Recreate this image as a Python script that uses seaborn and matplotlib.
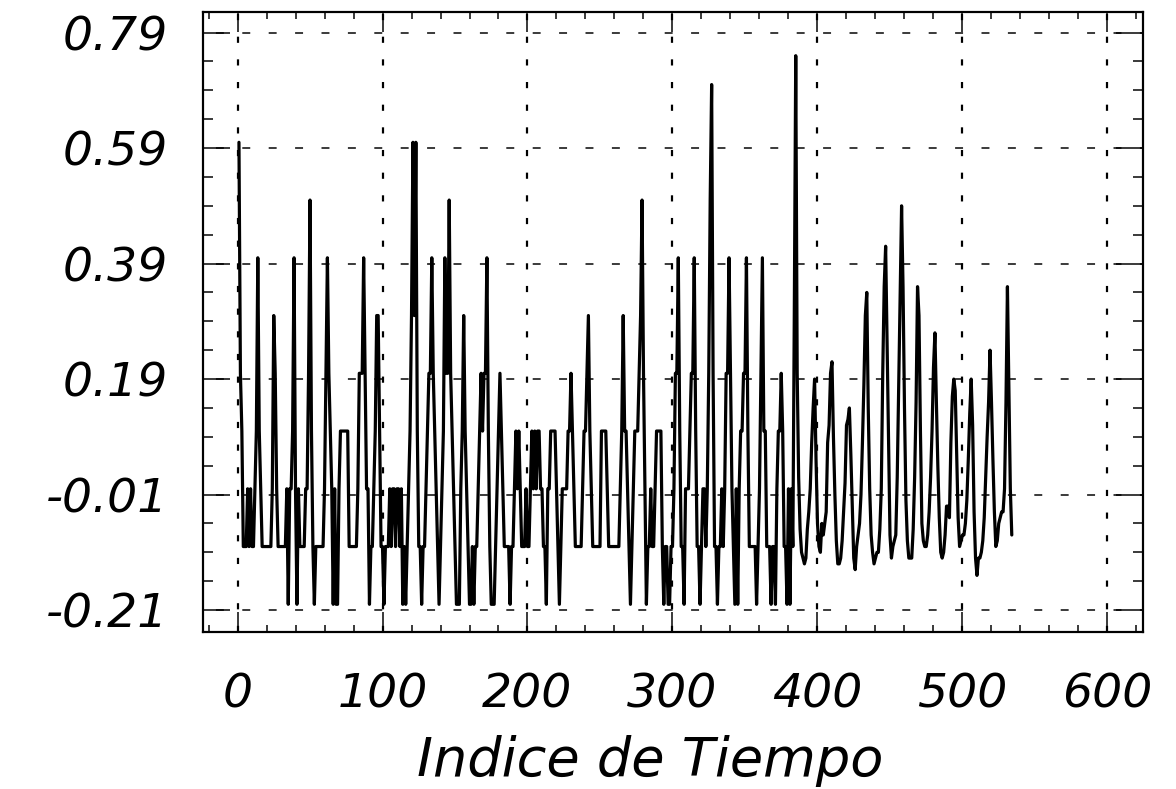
import numpy as np
import pandas as pd
import matplotlib
matplotlib.use("Agg")
import matplotlib.pyplot as plt
from matplotlib.ticker import FixedLocator, FixedFormatter, MultipleLocator
import seaborn as sns

# Series values, one per time index (1..534)
series_values = [
    0.6, 0.2, 0.1, -0.1, -0.1, -0.1, 0.0, -0.1, 0.0, -0.1,
    -0.1, 0.0, 0.1, 0.4, 0.1, 0.0, -0.1, -0.1, -0.1, -0.1,
    -0.1, -0.1, -0.1, 0.0, 0.3, 0.2, 0.0, -0.1, -0.1, -0.1,
    -0.1, -0.1, -0.1, 0.0, -0.2, 0.0, 0.0, 0.1, 0.4, 0.0,
    -0.2, 0.0, -0.1, -0.1, -0.1, -0.1, 0.0, 0.0, 0.2, 0.5,
    0.1, -0.1, -0.2, -0.1, -0.1, -0.1, -0.1, -0.1, -0.1, 0.0,
    0.2, 0.4, 0.2, 0.1, 0.0, -0.2, 0.0, -0.2, -0.2, 0.0,
    0.1, 0.1, 0.1, 0.1, 0.1, 0.1, -0.1, -0.1, -0.1, -0.1,
    -0.1, -0.1, 0.0, 0.2, 0.2, 0.2, 0.4, 0.2, 0.0, 0.0,
    -0.2, -0.1, -0.1, 0.0, 0.1, 0.3, 0.3, 0.1, -0.1, -0.1,
    -0.2, -0.1, -0.1, -0.1, 0.0, -0.1, 0.0, 0.0, -0.1, 0.0,
    0.0, -0.1, 0.0, -0.2, -0.1, -0.2, -0.1, 0.0, 0.1, 0.3,
    0.6, 0.3, 0.6, 0.1, -0.1, -0.1, -0.2, -0.1, -0.1, 0.0,
    0.1, 0.2, 0.2, 0.4, 0.2, 0.1, 0.0, -0.1, -0.2, -0.1,
    0.0, 0.1, 0.4, 0.2, 0.2, 0.5, 0.2, 0.1, 0.0, -0.1,
    -0.2, -0.2, -0.2, 0.0, 0.1, 0.3, 0.1, 0.0, -0.1, -0.2,
    -0.2, -0.1, -0.2, -0.1, -0.1, 0.0, 0.1, 0.2, 0.1, 0.2,
    0.2, 0.4, 0.1, -0.1, -0.2, -0.2, -0.2, -0.1, 0.0, 0.1,
    0.2, 0.1, 0.0, -0.1, -0.1, -0.1, -0.1, -0.2, -0.1, -0.1,
    0.0, 0.1, 0.0, 0.1, 0.0, -0.1, -0.1, -0.1, 0.0, -0.1,
    -0.1, 0.0, 0.1, 0.0, 0.1, 0.0, 0.1, 0.1, 0.0, 0.0,
    -0.1, -0.1, -0.2, 0.0, 0.0, 0.1, 0.1, 0.1, 0.1, 0.0,
    -0.1, -0.2, -0.1, 0.0, 0.0, 0.0, 0.0, 0.1, 0.1, 0.2,
    0.1, 0.0, -0.1, -0.1, -0.1, -0.1, -0.1, 0.0, 0.1, 0.1,
    0.2, 0.3, 0.1, 0.0, -0.1, -0.1, -0.1, -0.1, -0.1, -0.1,
    0.1, 0.1, 0.1, 0.1, 0.0, -0.1, -0.1, -0.1, -0.1, -0.1,
    -0.1, -0.1, -0.1, 0.0, 0.1, 0.3, 0.1, 0.1, 0.0, -0.1,
    -0.2, -0.1, 0.0, 0.1, 0.1, 0.1, 0.2, 0.3, 0.5, 0.2,
    0.0, -0.2, -0.1, -0.1, 0.0, -0.1, -0.1, 0.0, 0.1, 0.1,
    0.1, 0.1, -0.1, -0.2, -0.1, -0.1, -0.2, -0.2, -0.1, -0.1,
    0.0, 0.2, 0.2, 0.4, 0.1, -0.1, -0.1, -0.2, 0.0, 0.0,
    0.0, 0.1, 0.2, 0.2, 0.4, 0.1, -0.1, -0.1, -0.2, -0.1,
    0.0, 0.0, -0.1, 0.0, 0.2, 0.5, 0.7, 0.2, -0.1, -0.1,
    -0.2, -0.1, -0.1, 0.0, -0.1, 0.0, 0.2, 0.2, 0.4, 0.2,
    0.0, -0.1, -0.2, 0.0, -0.2, 0.0, 0.1, 0.1, 0.2, 0.2,
    0.4, 0.1, -0.1, -0.1, -0.1, -0.1, -0.1, -0.2, -0.1, 0.0,
    0.2, 0.4, 0.1, 0.1, -0.1, -0.1, -0.1, -0.2, -0.1, -0.1,
    -0.2, 0.0, 0.1, 0.1, 0.2, 0.1, -0.1, -0.1, -0.2, 0.0,
    -0.2, 0.0, -0.1, 0.3, 0.75, 0.2, 0.02, -0.07, -0.11, -0.12,
    -0.13, -0.12, -0.07, -0.04, 0.0, 0.08, 0.14, 0.19, 0.05, -0.06,
    -0.1, -0.11, -0.06, -0.08, -0.06, -0.04, 0.08, 0.11, 0.2, 0.22,
    0.09, -0.01, -0.09, -0.13, -0.13, -0.12, -0.09, -0.04, 0.01, 0.11,
    0.12, 0.14, 0.06, -0.03, -0.12, -0.14, -0.1, -0.08, -0.06, -0.01,
    0.08, 0.18, 0.3, 0.34, 0.14, 0.0, -0.08, -0.11, -0.13, -0.12,
    -0.11, -0.11, -0.07, 0.0, 0.2, 0.35, 0.42, 0.25, 0.07, -0.08,
    -0.12, -0.1, -0.09, -0.08, 0.02, 0.18, 0.35, 0.49, 0.35, 0.14,
    -0.02, -0.09, -0.12, -0.12, -0.12, -0.07, 0.02, 0.15, 0.35, 0.3,
    0.1, -0.06, -0.09, -0.1, -0.1, -0.08, -0.04, 0.02, 0.1, 0.21,
    0.27, 0.15, 0.04, -0.05, -0.11, -0.12, -0.11, -0.08, -0.03, -0.03,
    -0.05, 0.08, 0.16, 0.19, 0.17, 0.06, -0.05, -0.1, -0.09, -0.08,
    -0.08, -0.06, -0.02, 0.05, 0.13, 0.19, 0.11, -0.04, -0.12, -0.15,
    -0.12, -0.12, -0.11, -0.09, -0.05, 0.02, 0.09, 0.15, 0.24, 0.15,
    0.05, -0.04, -0.1, -0.09, -0.06, -0.05, -0.04, -0.04, 0.0, 0.15,
    0.35, 0.18, 0.0, -0.08,
]
time_index = np.arange(1, len(series_values) + 1)

x_ticks = [0, 100, 200, 300, 400, 500, 600]
x_tick_labels = ["0", "100", "200", "300", "400", "500", "600"]
y_ticks = [-0.21, -0.01, 0.19, 0.39, 0.59, 0.79]
y_tick_labels = ["-0.21", "-0.01", "0.19", "0.39", "0.59", "0.79"]
x_label = "Indice de Tiempo"

sns.set_style("white")
plt.rcParams["font.family"] = ["DejaVu Sans"]

W, H, DPI = 1176, 789, 100
PT = 72.0 / DPI  # points per pixel

fig = plt.figure(figsize=(W / DPI, H / DPI), dpi=DPI)
fig.patch.set_facecolor("white")
ax = fig.add_axes([203 / W, 1 - 632 / H, 940 / W, 620 / H])
ax.set_facecolor("white")

df = pd.DataFrame({"t": time_index, "valor": series_values})
sns.lineplot(data=df, x="t", y="valor", color="black", linewidth=3.2 * PT,
             ax=ax, zorder=3)

ax.set_xlim(-23.8, 624.5)
ax.set_ylim(-0.248, 0.8257)

ax.xaxis.set_major_locator(FixedLocator(x_ticks))
ax.xaxis.set_major_formatter(FixedFormatter(x_tick_labels))
ax.xaxis.set_minor_locator(MultipleLocator(20))
ax.yaxis.set_major_locator(FixedLocator(y_ticks))
ax.yaxis.set_major_formatter(FixedFormatter(y_tick_labels))
ax.yaxis.set_minor_locator(FixedLocator(np.arange(-0.21, 0.80, 0.05)))

# Grid: dotted verticals, long-dashed horizontals
ax.set_axisbelow(True)
ax.grid(True, which="major", axis="x", color="black",
        linewidth=2.2 * PT, linestyle=(0, (2.8, 7.5)))
ax.grid(True, which="major", axis="y", color="black",
        linewidth=1.5 * PT, linestyle=(9.0, (5.3, 12.3)))

for side in ["left", "right", "top", "bottom"]:
    ax.spines[side].set_visible(True)
    ax.spines[side].set_color("black")
    ax.spines[side].set_linewidth(2.2 * PT)

ax.tick_params(axis="y", which="major", direction="in", length=27 * PT,
               width=1.5 * PT, left=True, right=True, color="black",
               pad=35 * PT, labelsize=34)
ax.tick_params(axis="y", which="minor", direction="in", length=10 * PT,
               width=1.5 * PT, left=True, right=True, color="black")
ax.tick_params(axis="x", which="major", direction="in", length=20 * PT,
               width=1.5 * PT, bottom=True, top=True, color="black",
               pad=41 * PT, labelsize=34)
ax.tick_params(axis="x", which="minor", direction="in", length=7 * PT,
               width=1.5 * PT, bottom=True, top=True, color="black")

for lab in ax.get_xticklabels() + ax.get_yticklabels():
    lab.set_fontstyle("italic")
    lab.set_color("black")

ax.set_ylabel("")
ax.set_xlabel(x_label, fontsize=39, fontstyle="italic", color="black")
ax.xaxis.label.set_verticalalignment("baseline")
ax.xaxis.set_label_coords((650 - 203) / 940, (631 - 775) / 620)

fig.savefig("out.png", dpi=DPI, facecolor="white")
